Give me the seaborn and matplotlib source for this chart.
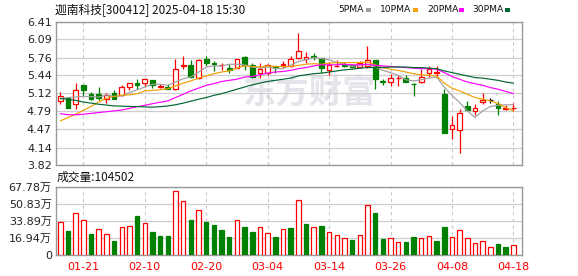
import numpy as np
import pandas as pd
import matplotlib
matplotlib.use("Agg")
import matplotlib.pyplot as plt
import seaborn as sns
from matplotlib.patches import Rectangle

# ---------------- data ----------------
title_text = "迦南科技[300412] 2025-04-18 15:30"
vol_label = "成交量:104502"

opens = [4.98, 5.025, 4.92, 5.264, 5.096, 5.096, 5.012, 5.12, 5.078, 5.222,
         5.31, 5.306, 5.35, 5.222, 5.234, 5.186, 5.61, 5.624, 5.39, 5.726,
         5.66, 5.625, 5.58, 5.578, 5.77, 5.62, 5.474, 5.49, 5.60, 5.625,
         5.61, 5.744, 5.726, 5.78, 5.744, 5.54, 5.60, 5.63, 5.624, 5.594,
         5.612, 5.714, 5.33, 5.312, 5.385, 5.39, 5.29, 5.312, 5.49, 5.48,
         5.102, 4.467, 4.45, 4.89, 4.803, 4.953, 4.995, 4.93, 4.827, 4.845]
highs = [5.14, 5.036, 5.30, 5.27, 5.138, 5.228, 5.12, 5.174, 5.264, 5.30,
         5.37, 5.38, 5.355, 5.276, 5.276, 5.74, 5.79, 5.72, 5.73, 5.786,
         5.70, 5.665, 5.64, 5.73, 5.79, 5.67, 5.66, 5.642, 5.612, 5.69,
         5.786, 6.21, 5.855, 5.834, 5.756, 5.675, 5.71, 5.678, 5.63, 5.70,
         5.97, 5.714, 5.37, 5.462, 5.45, 5.45, 5.30, 5.55, 5.61, 5.60,
         5.195, 4.71, 4.83, 4.98, 4.923, 5.115, 5.04, 4.977, 4.905, 4.935]
lows = [4.93, 4.845, 4.835, 5.07, 5.00, 5.00, 4.946, 5.012, 5.066, 5.174,
        5.20, 5.228, 5.22, 5.204, 5.186, 5.174, 5.55, 5.39, 5.38, 5.612,
        5.52, 5.54, 5.49, 5.57, 5.53, 5.385, 5.40, 5.44, 5.49, 5.576,
        5.59, 5.73, 5.66, 5.71, 5.474, 5.45, 5.594, 5.594, 5.58, 5.564,
        5.58, 5.19, 5.27, 5.24, 5.25, 5.315, 5.072, 5.30, 5.405, 5.40,
        4.395, 4.287, 4.047, 4.797, 4.725, 4.925, 4.935, 4.73, 4.812, 4.80]
closes = [5.066, 4.86, 5.17, 5.175, 5.02, 5.025, 5.084, 5.018, 5.228, 5.294,
          5.27, 5.366, 5.27, 5.24, 5.19, 5.55, 5.635, 5.41, 5.714, 5.666,
          5.645, 5.635, 5.54, 5.73, 5.63, 5.41, 5.553, 5.62, 5.582, 5.64,
          5.74, 5.87, 5.765, 5.77, 5.564, 5.62, 5.61, 5.615, 5.59, 5.654,
          5.714, 5.38, 5.32, 5.39, 5.40, 5.327, 5.28, 5.414, 5.546, 5.495,
          4.395, 4.545, 4.758, 4.818, 4.848, 4.995, 4.995, 4.86, 4.855, 4.86]

ma5 = [5.03, 5.04, 5.05, 5.06, 5.057, 5.048, 5.09, 5.06, 5.07, 5.13,
       5.18, 5.23, 5.28, 5.28, 5.26, 5.32, 5.38, 5.41, 5.50, 5.59,
       5.61, 5.61, 5.64, 5.64, 5.63, 5.59, 5.57, 5.59, 5.56, 5.56,
       5.62, 5.69, 5.72, 5.76, 5.74, 5.72, 5.67, 5.64, 5.60, 5.62,
       5.64, 5.59, 5.53, 5.49, 5.44, 5.36, 5.34, 5.36, 5.39, 5.41,
       5.23, 5.08, 4.95, 4.80, 4.68, 4.80, 4.88, 4.90, 4.91, 4.91]
ma10 = [4.62, 4.68, 4.74, 4.81, 4.88, 4.96, 5.03, 5.06, 5.08, 5.09,
        5.11, 5.16, 5.17, 5.18, 5.20, 5.25, 5.30, 5.34, 5.39, 5.43,
        5.47, 5.50, 5.52, 5.57, 5.61, 5.60, 5.59, 5.61, 5.60, 5.60,
        5.60, 5.62, 5.64, 5.65, 5.64, 5.66, 5.67, 5.67, 5.67, 5.67,
        5.68, 5.63, 5.58, 5.55, 5.53, 5.50, 5.47, 5.45, 5.44, 5.43,
        5.30, 5.21, 5.16, 5.10, 5.04, 5.01, 4.98, 4.93, 4.86, 4.80]
ma20 = [4.75, 4.73, 4.73, 4.74, 4.755, 4.77, 4.785, 4.80, 4.815, 4.845,
        4.875, 4.90, 4.93, 4.955, 4.98, 5.04, 5.10, 5.16, 5.21, 5.26,
        5.29, 5.33, 5.35, 5.37, 5.41, 5.42, 5.45, 5.48, 5.50, 5.51,
        5.53, 5.56, 5.58, 5.61, 5.63, 5.63, 5.63, 5.64, 5.63, 5.63,
        5.64, 5.62, 5.61, 5.60, 5.59, 5.58, 5.57, 5.56, 5.56, 5.55,
        5.49, 5.42, 5.37, 5.32, 5.29, 5.26, 5.22, 5.19, 5.15, 5.11]
ma30 = [5.02, 5.01, 4.99, 4.96, 4.94, 4.92, 4.905, 4.89, 4.885, 4.88,
        4.878, 4.872, 4.868, 4.875, 4.89, 4.91, 4.94, 4.975, 5.01, 5.04,
        5.08, 5.11, 5.15, 5.19, 5.23, 5.27, 5.30, 5.33, 5.35, 5.37,
        5.39, 5.43, 5.45, 5.47, 5.48, 5.50, 5.52, 5.54, 5.55, 5.57,
        5.58, 5.58, 5.58, 5.59, 5.59, 5.59, 5.58, 5.58, 5.57, 5.56,
        5.52, 5.49, 5.46, 5.43, 5.40, 5.39, 5.37, 5.35, 5.32, 5.30]

# volume in 万 (10k lots); 1 = up day (red), 0 = down day (green)
volumes = [32.6, 24.0, 41.5, 34.5, 21.1, 25.7, 20.7, 14.1, 27.6, 28.6,
           38.8, 31.6, 23.0, 19.1, 19.1, 63.2, 53.3, 34.9, 44.4, 32.9,
           29.9, 25.0, 18.1, 34.5, 28.0, 23.0, 27.6, 21.7, 18.1, 25.7,
           27.0, 54.3, 30.9, 27.6, 29.0, 22.7, 19.7, 16.8, 15.1, 19.7,
           49.4, 41.8, 16.1, 16.8, 13.2, 13.2, 18.1, 16.8, 18.8, 14.1,
           28.0, 17.8, 24.7, 16.8, 11.8, 13.8, 7.9, 11.2, 8.2, 10.45]
vol_up = [1, 0, 1, 1, 0, 1, 1, 0, 1, 1, 0, 1, 0, 0, 0, 1, 1, 0, 1, 0,
          0, 0, 0, 1, 0, 0, 1, 1, 0, 1, 0, 1, 0, 1, 0, 1, 1, 1, 0, 1,
          1, 0, 0, 1, 1, 0, 0, 1, 1, 0, 0, 1, 1, 1, 1, 1, 1, 0, 0, 1]

price_ticks = [3.82, 4.14, 4.47, 4.79, 5.12, 5.44, 5.76, 6.09, 6.41]
vol_ticks = [0, 16.94, 33.89, 50.83, 67.78]
vol_tick_labels = ["0", "16.94万", "33.89万", "50.83万", "67.78万"]
date_idx = [3, 11, 19, 27, 35, 43, 51, 59]
date_labels = ["01-21", "02-10", "02-20", "03-04", "03-14", "03-26", "04-08", "04-18"]
ma_names = ["5PMA", "10PMA", "20PMA", "30PMA"]
ma_colors = ["#a0a0a0", "#f0a000", "#ff00ff", "#006633"]

# ---------------- figure ----------------
sns.set_theme(style="white")
plt.rcParams["font.family"] = ["DejaVu Sans", "Noto Sans CJK SC"]

W, H = 578, 276
fig = plt.figure(figsize=(W / 100, H / 100), dpi=100)
fx = lambda px: px / W
fy = lambda py: 1 - py / H

left, right = 56, 522.3
ax = fig.add_axes([fx(left), fy(165.3), (right - left) / W, (165.3 - 21.5) / H])
axv = fig.add_axes([fx(left), fy(255.3), (right - left) / W, (255.3 - 186.5) / H], sharex=ax)

n = len(closes)
x = np.arange(n)
o = np.array(opens); c = np.array(closes); hi = np.array(highs); lo = np.array(lows)

RED, GREEN, BLACK = "#ff0000", "#008000", "#000000"
edge = [RED if cc > oo else (GREEN if cc < oo else BLACK) for oo, cc in zip(o, c)]
face = ["white" if cc > oo else (GREEN if cc < oo else BLACK) for oo, cc in zip(o, c)]

ax.vlines(x, lo, hi, colors=edge, linewidth=0.9, zorder=3)
bottoms = np.minimum(o, c)
heights = np.maximum(np.abs(c - o), 0.004)
ax.bar(x, heights, bottom=bottoms, width=0.62, color=face, edgecolor=edge,
       linewidth=0.9, zorder=4)

ma_df = pd.DataFrame({"idx": np.tile(x, 4),
                      "value": ma5 + ma10 + ma20 + ma30,
                      "ma": np.repeat(ma_names, n)})
sns.lineplot(data=ma_df, x="idx", y="value", hue="ma", palette=dict(zip(ma_names, ma_colors)),
             legend=False, linewidth=0.85, ax=ax, zorder=5)

ax.set_xlim(-0.56, 60.16)
ax.set_ylim(3.82, 6.41)
ax.set_yticks(price_ticks)
ax.set_yticklabels([f"{t:.2f}" for t in price_ticks])
ax.set_xlabel(""); ax.set_ylabel("")

# volume
vface = ["white" if u else GREEN for u in vol_up]
vedge = [RED if u else GREEN for u in vol_up]
axv.bar(x, volumes, width=0.58, color=vface, edgecolor=vedge, linewidth=0.9, zorder=3)
axv.set_ylim(0, 67.78)
axv.set_yticks(vol_ticks)
axv.set_yticklabels(vol_tick_labels)
axv.set_xticks(date_idx)
axv.set_xticklabels(date_labels)

for a in (ax, axv):
    a.set_facecolor("none")
    a.set_axisbelow(True)
    a.yaxis.grid(True, color="#cfcfcf", linewidth=0.9, linestyle="-")
    a.xaxis.grid(True, color="#c8c8c8", linewidth=0.8, linestyle=(0, (3, 3)))
    for s in a.spines.values():
        s.set_color("#999999")
        s.set_linewidth(1.0)
    a.tick_params(axis="both", length=0, labelsize=8, colors="#222222", pad=3)
ax.set_xticks(date_idx)
ax.tick_params(axis="x", labelbottom=False)
axv.tick_params(axis="x", colors="#ff0000", labelsize=8, pad=4.5)
axv.set_xlabel("")

# watermark
fig.text(fx(309), fy(94), "东方财富", fontsize=24, color="#e4e4ea", weight="bold",
         family=["Noto Sans CJK SC"], ha="center", va="center", zorder=-1)

# title & labels
fig.text(fx(55), fy(9.5), title_text, fontsize=8.5, family=["Noto Sans CJK SC", "DejaVu Sans"],
         ha="left", va="center", color="#111111")
fig.text(fx(57), fy(177.5), vol_label, fontsize=8.5, family=["Noto Sans CJK SC", "DejaVu Sans"],
         ha="left", va="center", color="#111111")

# legend
leg_pos = [(338, 366), (380, 413), (427, 459), (472, 505)]
for (tx, sq), name, col in zip(leg_pos, ma_names, ma_colors):
    fig.text(fx(tx), fy(9.5), name, fontsize=6.6, ha="left", va="center", color="#111111")
    fig.add_artist(Rectangle((fx(sq), fy(11.5)), 4.5 / W, 4 / H, transform=fig.transFigure,
                             facecolor=col, edgecolor="none"))

fig.savefig("out.png", dpi=100)
